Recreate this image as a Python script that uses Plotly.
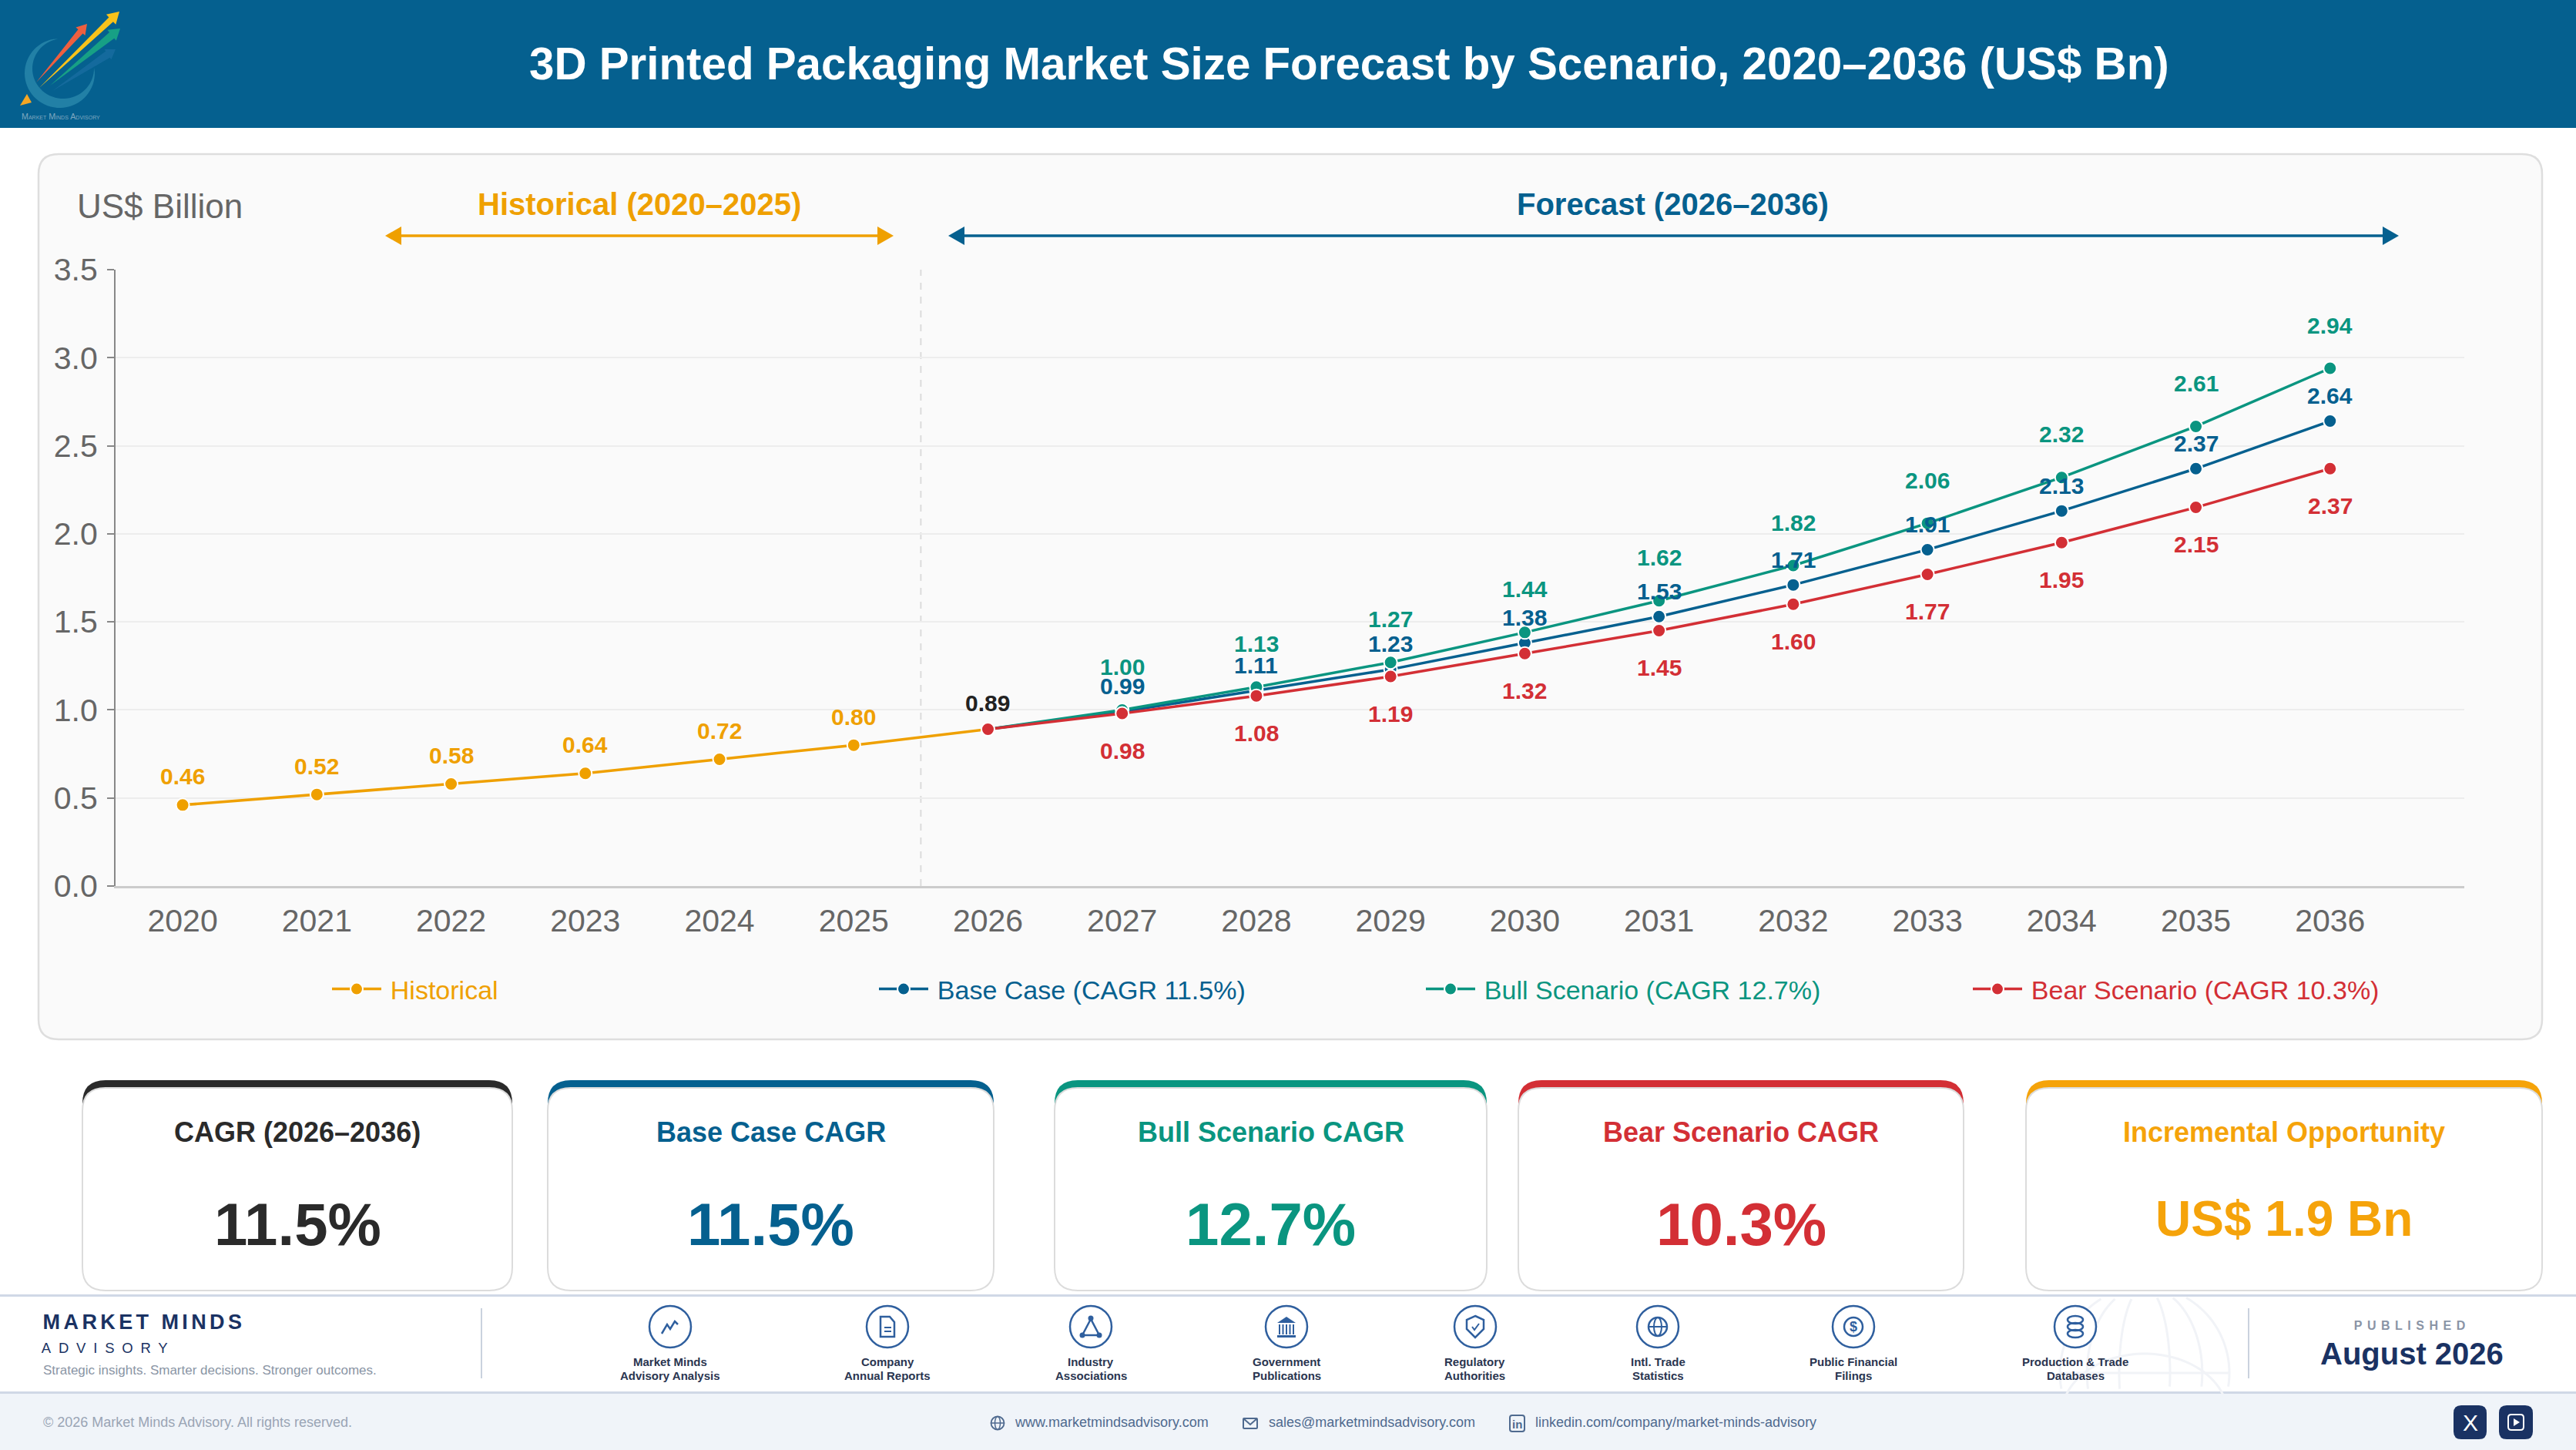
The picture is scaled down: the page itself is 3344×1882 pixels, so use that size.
import numpy as np
import plotly.graph_objects as go

# ---------- data ----------
hist_years = [2020, 2021, 2022, 2023, 2024, 2025, 2026]
hist_vals = [0.46, 0.52, 0.58, 0.64, 0.72, 0.80, 0.89]
fc_years = [2026, 2027, 2028, 2029, 2030, 2031, 2032, 2033, 2034, 2035, 2036]
base_vals = [0.89, 0.99, 1.11, 1.23, 1.38, 1.53, 1.71, 1.91, 2.13, 2.37, 2.64]
bull_vals = [0.89, 1.00, 1.13, 1.27, 1.44, 1.62, 1.82, 2.06, 2.32, 2.61, 2.94]
bear_vals = [0.89, 0.98, 1.08, 1.19, 1.32, 1.45, 1.60, 1.77, 1.95, 2.15, 2.37]
all_years = list(range(2020, 2037))
y_ticks = [0, 0.5, 1.0, 1.5, 2.0, 2.5, 3.0, 3.5]

card_titles = ["CAGR (2026–2036)", "Base Case CAGR", "Bull Scenario CAGR", "Bear Scenario CAGR", "Incremental Opportunity"]
card_values = ["11.5%", "11.5%", "12.7%", "10.3%", "US$ 1.9 Bn"]
source_labels = [("Market Minds", "Advisory Analysis"), ("Company", "Annual Reports"), ("Industry", "Associations"),
                 ("Government", "Publications"), ("Regulatory", "Authorities"), ("Intl. Trade", "Statistics"),
                 ("Public Financial", "Filings"), ("Production & Trade", "Databases")]

# ---------- style ----------
W, H = 3344, 1882
L, R, T, B = 150, 3199, 350, 1150
FONT = "Liberation Sans, Arial, sans-serif"
ORANGE, BLUE, TEAL, RED = "#EFA000", "#05608F", "#0A9580", "#D32F35"
DARK, NAVY, ICON = "#2A2A2A", "#1A3263", "#2F5F9E"


def X(p):
    return (p - L) / (R - L)


def Y(p):
    return (B - p) / (B - T)


def poly(pts, close=True):
    s = "M " + " L ".join(f"{X(a):.5f},{Y(b):.5f}" for a, b in pts)
    return s + (" Z" if close else "")


def rrect(x0, y0, x1, y1, r):
    c = lambda a, b: f"{X(a):.5f},{Y(b):.5f}"
    return (f"M {c(x0 + r, y0)} L {c(x1 - r, y0)} Q {c(x1, y0)} {c(x1, y0 + r)} L {c(x1, y1 - r)} "
            f"Q {c(x1, y1)} {c(x1 - r, y1)} L {c(x0 + r, y1)} Q {c(x0, y1)} {c(x0, y1 - r)} "
            f"L {c(x0, y0 + r)} Q {c(x0, y0)} {c(x0 + r, y0)} Z")


shapes, notes = [], []


def add_path(d, fill=None, line=None, lw=0, opacity=1.0):
    shapes.append(dict(type="path", path=d, xref="paper", yref="paper", layer="below", opacity=opacity,
                       fillcolor=fill or "rgba(0,0,0,0)",
                       line=dict(color=line or "rgba(0,0,0,0)", width=lw)))


def add_rect(x0, y0, x1, y1, fill):
    shapes.append(dict(type="rect", x0=X(x0), x1=X(x1), y0=Y(y0), y1=Y(y1), xref="paper", yref="paper",
                       layer="below", fillcolor=fill, line=dict(width=0)))


def add_circle(cx, cy, rx, ry=None, fill=None, line=None, lw=0):
    ry = ry if ry is not None else rx
    shapes.append(dict(type="circle", x0=X(cx - rx), x1=X(cx + rx), y0=Y(cy + ry), y1=Y(cy - ry), xref="paper",
                       yref="paper", layer="below", fillcolor=fill or "rgba(0,0,0,0)",
                       line=dict(color=line or "rgba(0,0,0,0)", width=lw)))


def add_text(x, y, text, size, color, bold=False, anchor="center", **kw):
    notes.append(dict(x=X(x), y=Y(y), xref="paper", yref="paper", text=f"<b>{text}</b>" if bold else text,
                      showarrow=False, xanchor=anchor, yanchor="middle",
                      font=dict(family=FONT, size=size, color=color, **kw)))


# ---------- page furniture ----------
add_rect(0, 0, W, 166, BLUE)
add_path(rrect(50, 200, 3300, 1349, 26), fill="#FAFAFA", line="#DEDEDE", lw=2.5)


# logo
def arrow(x0, y0, x1, y1, w, head, hw, color, op=1.0):
    d = np.array([x1 - x0, y1 - y0], float)
    n = np.hypot(*d)
    u = d / n
    v = np.array([-u[1], u[0]])
    p0, p1 = np.array([x0, y0], float), np.array([x1, y1], float)
    b = p1 - u * head
    add_path(poly([p0, b + v * w, b + v * hw, p1, b - v * hw, b - v * w]), fill=color, opacity=op)


ang = np.radians(np.linspace(-100, -362, 50))
outer = [(77.5 + 45.5 * np.cos(a), 95 + 45 * np.sin(a)) for a in ang]
inner = [(82 + 40 * np.cos(a), 89 + 39 * np.sin(a)) for a in ang[::-1]]
add_path(poly(outer + inner), fill="#2C8BAD", opacity=0.75)
arrow(68, 118, 150, 64, 5, 12, 8, "#1B6FA3", 0.7)
arrow(47, 107, 113, 31, 4, 13, 8, "#EE5F3F")
arrow(65, 111, 156, 37, 5, 14, 9, "#17A085")
arrow(51, 114, 155, 15, 4, 15, 9, "#F8C21A")
add_path(poly([(26, 137), (35, 122), (41, 133)]), fill="#F5A623")
add_text(79, 151, "Market Minds Advisory", 10.7, "#7FA8C0", variant="small-caps")

add_text(1751, 82, "3D Printed Packaging Market Size Forecast by Scenario, 2020–2036 (US$ Bn)", 58.3, "#FFFFFF", bold=True)
add_text(207, 267, "US$ Billion", 44, "#666666")

# period arrows
add_text(830, 265, "Historical (2020–2025)", 40, ORANGE, bold=True)
add_text(2171, 265, "Forecast (2026–2036)", 40, BLUE, bold=True)
for x0, x1, col in [(500, 1160, ORANGE), (1231, 3114, BLUE)]:
    add_path(poly([(x0 + 10, 306), (x1 - 10, 306)], close=False), line=col, lw=3.5)
    add_path(poly([(x0, 306), (x0 + 21, 294), (x0 + 21, 318)]), fill=col)
    add_path(poly([(x1, 306), (x1 - 21, 294), (x1 - 21, 318)]), fill=col)

# KPI cards
card_spans = [(107, 665), (711, 1290), (1369, 1930), (1971, 2549), (2630, 3300)]
card_cols = [DARK, BLUE, TEAL, RED, "#F5A30A"]
card_fonts = [78, 78, 78, 78, 64]
card_vy = [1589, 1589, 1589, 1589, 1582]
for (x0, x1), col, fs, vy, tt, vv in zip(card_spans, card_cols, card_fonts, card_vy, card_titles, card_values):
    add_path(rrect(x0, 1402, x1, 1480, 30), fill=col)
    add_path(rrect(x0, 1412, x1, 1675, 30), fill="#FFFFFF", line="#DCDCDC", lw=2)
    add_text((x0 + x1) / 2, 1469, tt, 36, col, bold=True)
    add_text((x0 + x1) / 2, vy, vv, fs, col, bold=True)

# footer
add_rect(0, 1807, W, H, "#F0F4F9")
add_rect(0, 1680, W, 1683, "#D0D8E6")
add_rect(0, 1806, W, 1809, "#D0D8E6")

# globe watermark
gc = (2784, 1782)
GL = "#F1F3F7"
for k in [1.0, 0.68, 0.3]:
    t = np.radians(np.linspace(0, 360, 120))
    seg = [(gc[0] + 110 * k * np.cos(a), gc[1] + 112 * np.sin(a)) for a in t]
    seg = [p for p in seg if 1684 < p[1] < 1805]
    seg.sort(key=lambda p: (p[0] > gc[0], p[1] if p[0] > gc[0] else -p[1]))
    left = [p for p in seg if p[0] <= gc[0]]
    right = [p for p in seg if p[0] > gc[0]]
    add_path(poly(left, close=False), line=GL, lw=3)
    add_path(poly(right, close=False), line=GL, lw=3)
add_path(poly([(gc[0] - 110, gc[1]), (gc[0] + 110, gc[1])], close=False), line=GL, lw=3)
t = np.radians(np.linspace(200, 340, 40))
add_path(poly([(gc[0] + 108 * np.cos(a), gc[1] + 55 + 80 * np.sin(a)) for a in t], close=False), line=GL, lw=3)

for x in (625, 2919):
    add_rect(x - 1, 1698, x + 1, 1789, "#CAD2DE")

add_text(187, 1716, "MARKET MINDS", 27, NAVY, bold=True)
add_text(140, 1749, "ADVISORY", 18.5, NAVY)
add_text(54, 1778, "Strategic insights. Smarter decisions. Stronger outcomes.", 17, "#8A95A5", anchor="left")
add_text(3131, 1720, "PUBLISHED", 16, "#8A94A6", bold=True)
add_text(3131, 1757, "August 2026", 40, NAVY, bold=True)
add_text(54, 1846, "© 2026 Market Minds Advisory. All rights reserved.", 18, "#9AA5B5", anchor="left")
add_text(1315, 1846, "www.marketmindsadvisory.com", 18, "#4F6A8F", anchor="left")
add_text(1645, 1846, "sales@marketmindsadvisory.com", 18, "#4F6A8F", anchor="left")
add_text(1991, 1846, "linkedin.com/company/market-minds-advisory", 18, "#4F6A8F", anchor="left")

# source icons
icon_x = [870, 1152, 1416, 1670, 1915, 2152, 2406, 2694]
icon_y = 1722
for cx, (l1, l2) in zip(icon_x, source_labels):
    add_circle(cx, icon_y, 27, fill="#FFFFFF", line=ICON, lw=2.5)
    add_text(cx, 1767, l1, 15, "#2A3550", bold=True)
    add_text(cx, 1785, l2, 15, "#2A3550", bold=True)


def rel(cx, cy, pts):
    return [(cx + a, cy + b) for a, b in pts]


c = icon_x[0]
add_path(poly(rel(c, icon_y, [(-11, 9), (-4, -3), (0, 3), (6, -7), (10, -3)]), close=False), line=ICON, lw=2.5)
c = icon_x[1]
add_path(poly(rel(c, icon_y, [(-9, -13), (3, -13), (9, -6), (9, 13), (-9, 13)])), line=ICON, lw=2.5)
add_path(poly(rel(c, icon_y, [(-4, 1), (5, 1)]), close=False), line=ICON, lw=2)
add_path(poly(rel(c, icon_y, [(-4, 6), (5, 6)]), close=False), line=ICON, lw=2)
c = icon_x[2]
add_path(poly(rel(c, icon_y, [(0, -10), (-11, 11), (11, 11)])), line=ICON, lw=2.5)
for a, b in [(0, -11), (-11, 11), (11, 11)]:
    add_circle(c + a, icon_y + b, 3.5, fill=ICON)
c = icon_x[3]
add_path(poly(rel(c, icon_y, [(0, -13), (-12, -5), (12, -5)])), fill=ICON)
for a in (-9, -4.5, 0, 4.5, 9):
    add_path(poly(rel(c, icon_y, [(a, -3), (a, 10)]), close=False), line=ICON, lw=2)
add_rect(c - 12, icon_y + 11, c + 12, icon_y + 14, ICON)
c = icon_x[4]
add_path(poly(rel(c, icon_y, [(0, -14), (11, -9), (11, 3), (0, 14), (-11, 3), (-11, -9)])), line=ICON, lw=2.5)
add_path(poly(rel(c, icon_y, [(-4, 0), (-1, 4), (5, -4)]), close=False), line=ICON, lw=2)
c = icon_x[5]
add_circle(c, icon_y, 12, line=ICON, lw=2.5)
add_circle(c, icon_y, 5, 12, line=ICON, lw=2)
add_path(poly(rel(c, icon_y, [(-12, 0), (12, 0)]), close=False), line=ICON, lw=2)
c = icon_x[6]
add_circle(c, icon_y, 12, line=ICON, lw=2.5)
add_text(c, icon_y, "$", 18, ICON, bold=True)
c = icon_x[7]
for dy in (-9, 0, 9):
    add_circle(c, icon_y + dy, 10, 5, line=ICON, lw=2.5)

# contact icons
CI = "#4F6A8F"
add_circle(1295, 1847, 8.5, line=CI, lw=1.8)
add_circle(1295, 1847, 3.5, 8.5, line=CI, lw=1.5)
add_path(poly([(1286.5, 1847), (1303.5, 1847)], close=False), line=CI, lw=1.5)
add_path(rrect(1614, 1841, 1632, 1854, 1), line=CI, lw=2)
add_path(poly([(1614, 1841), (1623, 1849), (1632, 1841)], close=False), line=CI, lw=2)
add_path(rrect(1960, 1837, 1979, 1858, 3), line=CI, lw=2)
add_text(1969.5, 1848, "in", 15, CI, bold=True)
add_path(rrect(3185, 1824, 3228, 1868, 10), fill=NAVY)
add_path(rrect(3244, 1824, 3288, 1868, 10), fill=NAVY)
add_text(3206.5, 1846, "X", 30, "#FFFFFF")
add_path(rrect(3256, 1836, 3276, 1856, 4), line="#FFFFFF", lw=2)
add_path(poly([(3263, 1841), (3271, 1846), (3263, 1851)]), fill="#FFFFFF")

# historical / forecast divider on the data axis
shapes.append(dict(type="line", xref="x", yref="y", x0=2025.5, x1=2025.5, y0=0, y1=3.5, layer="below",
                   line=dict(color="#DCDCDC", width=2, dash="dash")))


# ---------- data labels ----------
def add_labels(xs, vs, col, shift):
    for xv, yv in zip(xs, vs):
        notes.append(dict(x=xv, y=yv, xref="x", yref="y", text=f"<b>{yv:.2f}</b>", showarrow=False,
                          xanchor="center", yanchor="middle", yshift=shift,
                          font=dict(family=FONT, size=30, color=col)))


add_labels(hist_years[:-1], hist_vals[:-1], ORANGE, 37)
add_labels(hist_years[-1:], hist_vals[-1:], "#222222", 34)
add_labels(fc_years[1:], base_vals[1:], BLUE, 33)
add_labels(fc_years[1:], bull_vals[1:], TEAL, 56)
add_labels(fc_years[1:], bear_vals[1:], RED, -48)

# ---------- figure ----------
fig = go.Figure()
series = [("Historical", hist_years, hist_vals, ORANGE),
          ("Base Case (CAGR 11.5%)", fc_years, base_vals, BLUE),
          ("Bull Scenario (CAGR 12.7%)", fc_years, bull_vals, TEAL),
          ("Bear Scenario (CAGR 10.3%)", fc_years, bear_vals, RED)]
for name, xs, ys, col in series:
    fig.add_trace(go.Scatter(x=xs, y=ys, mode="lines+markers",
                             name=f'<span style="color:{col}">\u2009{name}</span>',
                             line=dict(color=col, width=3.5),
                             marker=dict(color=col, size=17, line=dict(color="#FFFFFF", width=2))))

fig.update_layout(
    width=W, height=H, autosize=False, paper_bgcolor="#FFFFFF", plot_bgcolor="rgba(0,0,0,0)",
    margin=dict(l=L, r=W - R, t=T, b=H - B, pad=0),
    font=dict(family=FONT, color="#666666"), shapes=shapes, annotations=notes,
    xaxis=dict(range=[2019.5, 2037], tickmode="array", tickvals=all_years, ticktext=[str(y) for y in all_years],
               showgrid=False, zeroline=False, showline=True, linecolor="#CCCCCC", linewidth=3, ticks="",
               tickfont=dict(size=41, color="#666666"), ticklabelstandoff=7),
    yaxis=dict(range=[0, 3.5], tickmode="array", tickvals=y_ticks, ticktext=[f"{v:.1f}" for v in y_ticks],
               showgrid=True, gridcolor="#EDEDED", gridwidth=2, zeroline=False, showline=True, linecolor="#888888",
               linewidth=2, ticks="outside", ticklen=9, tickcolor="#888888", tickwidth=2,
               tickfont=dict(size=41, color="#666666"), ticklabelstandoff=4),
    legend=dict(orientation="h", x=X(426), y=Y(1284), xanchor="left", yanchor="middle", bgcolor="rgba(0,0,0,0)",
                itemwidth=64, entrywidth=631, entrywidthmode="pixels", font=dict(family=FONT, size=34), itemclick=False,
                itemdoubleclick=False),
    hovermode=False,
)

post = """
document.body.style.margin='0';
var sp={'MARKET MINDS':'4.4px','ADVISORY':'9.8px','PUBLISHED':'6.5px'};
document.querySelectorAll('.annotation-text').forEach(function(t){
  var k=t.textContent; if(sp[k]){t.style.letterSpacing=sp[k];}
});
"""
fig.write_html("out.html", post_script=post, config=dict(displayModeBar=False))
